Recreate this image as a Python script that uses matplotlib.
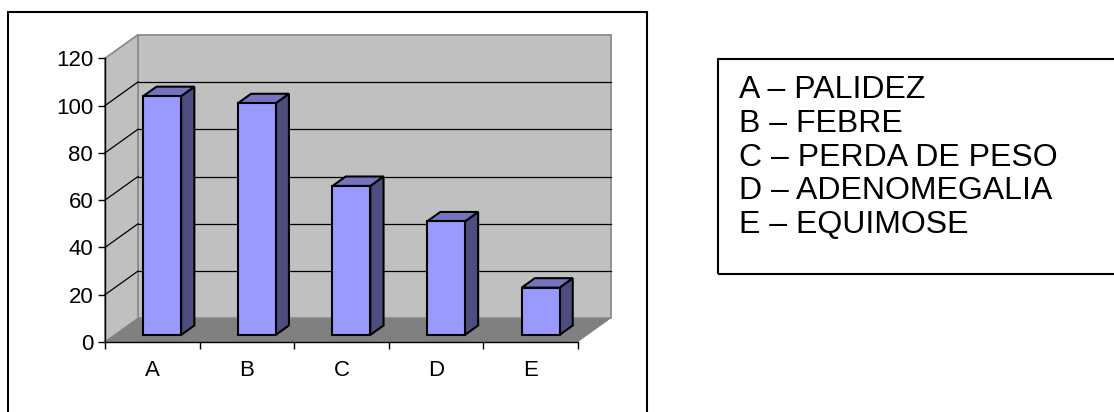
import matplotlib
matplotlib.use("Agg")
import matplotlib.pyplot as plt
from matplotlib.patches import Polygon, Rectangle

# data
categorias = ["A", "B", "C", "D", "E"]
valores = [101, 98, 63, 48, 20]
legenda = ["A – PALIDEZ", "B – FEBRE", "C – PERDA DE PESO",
           "D – ADENOMEGALIA", "E – EQUIMOSE"]
y_ticks = [0, 20, 40, 60, 80, 100, 120]

plt.rcParams['font.family'] = ['Liberation Sans', 'DejaVu Sans']

W, H = 1114, 412
fig = plt.figure(figsize=(W / 100, H / 100), dpi=100)

# front plane of the 3d box in pixels
x0, x1 = 105, 578
yb, yt = 342, 58.3
ax = fig.add_axes([x0 / W, (H - yb) / H, (x1 - x0) / W, (yb - yt) / H])
ax.set_xlim(0, len(categorias))
ax.set_ylim(0, 120)
ax.patch.set_visible(False)

# 3d depth offset (data units)
DX, DY = 0.349, 10.0
n = len(categorias)
ymax = y_ticks[-1]


def poly(pts, fc, ec="none", lw=0, z=1):
    p = Polygon(pts, closed=True, facecolor=fc, edgecolor=ec, linewidth=lw,
                clip_on=False, zorder=z, joinstyle="miter")
    ax.add_patch(p)


# walls and floor
poly([(DX, DY), (n + DX, DY), (n + DX, ymax + DY), (DX, ymax + DY)], "#c0c0c0", "#8c8c8c", 1.3)
poly([(0, 0), (DX, DY), (DX, ymax + DY), (0, ymax)], "#c0c0c0", "#8c8c8c", 1.3)
poly([(0, 0), (n, 0), (n + DX, DY), (DX, DY)], "#808080")

# gridlines (back wall + left wall)
for v in y_ticks[1:-1]:
    ax.plot([DX, n + DX], [v + DY, v + DY], color="black", lw=0.9, zorder=2, clip_on=False)
    ax.plot([0, DX], [v, v + DY], color="black", lw=0.9, zorder=2, clip_on=False)

# bars
f1, d = 0.3, 0.4
for i, v in enumerate(valores):
    xl = i + 0.3 + f1 * DX
    xr = i + 0.7 + f1 * DX
    yb0 = f1 * DY
    top = v + yb0
    ddx, ddy = d * DX, d * DY
    poly([(xr, yb0), (xr + ddx, yb0 + ddy), (xr + ddx, top + ddy), (xr, top)],
         "#4d4d80", "black", 1.5, 3)
    poly([(xl, top), (xr, top), (xr + ddx, top + ddy), (xl + ddx, top + ddy)],
         "#7373bf", "black", 1.5, 3)
    poly([(xl, yb0), (xr, yb0), (xr, top), (xl, top)], "#9999ff", "black", 1.5, 3)

# axes
for s in ["top", "right"]:
    ax.spines[s].set_visible(False)
ax.spines["left"].set_linewidth(1.0)
ax.spines["bottom"].set_linewidth(1.0)
ax.spines["left"].set_zorder(4)
ax.spines["bottom"].set_zorder(4)
ax.set_yticks(y_ticks)
ax.tick_params(axis="y", length=5, width=1, pad=3.5, labelsize=16)
ax.set_xticks([i + 0.5 for i in range(n)])
ax.set_xticklabels(categorias)
ax.set_xticks(range(n + 1), minor=True)
ax.tick_params(axis="x", which="major", length=0, pad=13, labelsize=16)
ax.tick_params(axis="x", which="minor", length=5, width=1)

# outer chart frame
fig.patches.append(Rectangle((8 / W, -0.05), (647 - 8) / W, (H - 12) / H + 0.05,
                             transform=fig.transFigure, fill=False,
                             edgecolor="black", linewidth=1.5))

# legend box
fig.patches.append(Rectangle((718 / W, (H - 274) / H), 0.4, (274 - 59) / H,
                             transform=fig.transFigure, fill=False,
                             edgecolor="black", linewidth=1.5))
for i, txt in enumerate(legenda):
    yy = 98.3 + i * 33.7
    fig.text(739 / W, 1 - yy / H, txt, fontsize=23, va="baseline", ha="left")

fig.savefig("out.png", dpi=100)
